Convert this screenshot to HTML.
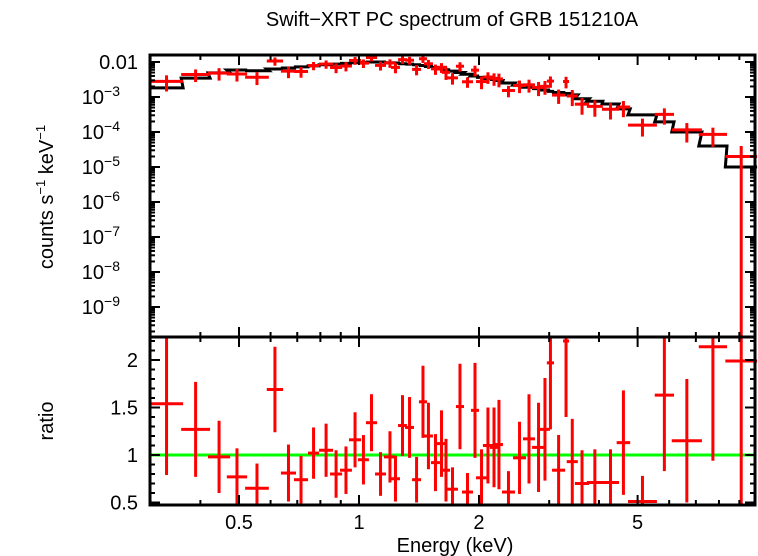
<!DOCTYPE html>
<html><head><meta charset="utf-8"><style>
body{margin:0;background:#fff}
svg{display:block;font-family:"Liberation Sans",sans-serif}
</style></head><body>
<svg id="chart" width="758" height="556" viewBox="0 0 758 556" xmlns="http://www.w3.org/2000/svg">
<rect x="0" y="0" width="758" height="556" fill="#fff"/>
<text x="452" y="26" font-size="20" text-anchor="middle">Swift−XRT PC spectrum of GRB 151210A</text>
<text x="455" y="552" font-size="20" text-anchor="middle">Energy (keV)</text>
<text transform="translate(53,197) rotate(-90)" font-size="20" text-anchor="middle">counts s<tspan font-size="13" dy="-8">−1</tspan><tspan dy="8"> keV</tspan><tspan font-size="13" dy="-8">−1</tspan></text>
<text transform="translate(53,421) rotate(-90)" font-size="20" text-anchor="middle">ratio</text>
<g id="g"></g>
</svg>
<script>
const eLo=[0.299,0.358,0.418,0.466,0.518,0.587,0.637,0.687,0.745,0.794,0.846,0.896,0.944,0.994,1.041,1.097,1.155,1.203,1.253,1.305,1.359,1.414,1.455,1.516,1.56,1.615,1.663,1.751,1.813,1.91,1.966,2.046,2.131,2.193,2.284,2.435,2.579,2.718,2.845,2.96,3.05,3.25,3.32,3.48,3.73,4.07,4.43,4.73,5.52,6.09,7.12,8.3];
const eHi=[0.362,0.423,0.475,0.524,0.594,0.645,0.695,0.745,0.794,0.861,0.907,0.960,1.012,1.059,1.11,1.169,1.238,1.267,1.319,1.374,1.431,1.481,1.533,1.596,1.663,1.692,1.771,1.834,1.932,2.0,2.095,2.168,2.233,2.297,2.462,2.624,2.764,2.928,3.013,3.085,3.29,3.365,3.54,3.78,4.09,4.49,4.79,5.59,6.17,7.25,8.38,9.97];
const ratio=[1.54,1.27,0.98,0.77,0.65,1.69,0.81,0.74,1.02,1.05,0.80,0.84,1.16,0.95,1.34,0.80,0.98,0.75,1.31,1.29,0.74,1.56,1.20,0.92,1.12,0.84,0.64,1.51,0.61,1.47,0.76,1.10,1.08,1.11,0.61,0.97,1.17,1.08,1.27,1.97,0.84,2.2,0.93,0.70,0.71,0.71,1.13,0.51,1.63,1.15,2.14,1.99];
const ratioErr=[0.75,0.5,0.38,0.3,0.26,0.45,0.3,0.25,0.27,0.28,0.25,0.25,0.29,0.26,0.30,0.23,0.27,0.24,0.32,0.32,0.24,0.38,0.35,0.30,0.35,0.33,0.23,0.45,0.2,0.5,0.3,0.4,0.42,0.47,0.22,0.38,0.47,0.47,0.54,0.7,0.37,0.8,0.45,0.35,0.35,0.35,0.55,0.27,0.8,0.65,1.2,2.0];
const modelLog=[-2.74,-2.46,-2.31,-2.23,-2.25,-2.2,-2.17,-2.14,-2.11,-2.08,-2.06,-2.04,-2.02,-2.01,-2.0,-2.0,-2.02,-2.03,-2.05,-2.06,-2.08,-2.1,-2.13,-2.16,-2.2,-2.22,-2.26,-2.3,-2.35,-2.4,-2.44,-2.47,-2.5,-2.53,-2.6,-2.66,-2.72,-2.76,-2.8,-2.84,-2.87,-2.9,-2.94,-3.05,-3.12,-3.2,-3.34,-3.51,-3.71,-4.0,-4.4,-5.0];
const xTicks=[0.5,1,2,5];
const xTickLabels=["0.5","1","2","5"];
const ratioTicks=[0.5,1,1.5,2];
const ratioTickLabels=["0.5","1","1.5","2"];
const logTicks=[-2,-3,-4,-5,-6,-7,-8,-9];

const L=150,R=755,T=55,M=337,B=505;
const X=e=>359+398.6*Math.log10(e);
const YT=v=>62-35*(Math.log10(v)+2);
const YB=r=>455-95*(r-1);
const NS="http://www.w3.org/2000/svg";
const g=document.getElementById('g');
function mk(tag,attrs,parent){const el=document.createElementNS(NS,tag);for(const k in attrs)el.setAttribute(k,attrs[k]);(parent||g).appendChild(el);return el;}
const clampT=y=>Math.max(T,Math.min(M,y));
const clampB=y=>Math.max(M,Math.min(B,y));

let d='';
for(let i=0;i<eLo.length;i++){const y=YT(Math.pow(10,modelLog[i]));d+=(i?'L':'M')+X(eLo[i])+' '+y+' L'+X(eHi[i])+' '+y+' ';}
const modelPath=mk('path',{d:d,fill:'none',stroke:'#000','stroke-width':3});



const unity=mk('line',{x1:L,x2:R,y1:YB(1),y2:YB(1),stroke:'#00ff00','stroke-width':3});



for(let i=0;i<eLo.length;i++){
  const m=Math.pow(10,modelLog[i]);
  const xc=(X(eLo[i])+X(eHi[i]))/2;
  const v=m*ratio[i],lo=m*(ratio[i]-ratioErr[i]),hi=m*(ratio[i]+ratioErr[i]);
  const gp=mk('g',{stroke:'#ff0000','stroke-width':3});
  
  
  const yv=YT(v);
  mk('line',{x1:X(eLo[i]),x2:X(eHi[i]),y1:yv,y2:yv},gp);
  mk('line',{x1:xc,x2:xc,y1:clampT(YT(hi)),y2:lo>0?clampT(YT(lo)):M},gp);
  const gr=mk('g',{stroke:'#ff0000','stroke-width':3});
  
  
  const yr=YB(ratio[i]);
  if(yr>=M&&yr<=B) mk('line',{x1:X(eLo[i]),x2:X(eHi[i]),y1:yr,y2:yr},gr);
  mk('line',{x1:xc,x2:xc,y1:clampB(YB(ratio[i]+ratioErr[i])),y2:clampB(YB(ratio[i]-ratioErr[i]))},gr);
}

const f1=mk('rect',{x:L,y:T,width:R-L,height:M-T,fill:'none',stroke:'#000','stroke-width':3});


const f2=mk('rect',{x:L,y:M,width:R-L,height:B-M,fill:'none',stroke:'#000','stroke-width':3});



const tg=mk('g',{stroke:'#000','stroke-width':2});


const minorE=[0.3,0.4,0.5,0.6,0.7,0.8,0.9,1,2,3,4,5,6,7,8,9];
minorE.forEach(e=>{const x=X(e);const len=xTicks.includes(e)?10:5;
  mk('line',{x1:x,x2:x,y1:T,y2:T+len},tg);mk('line',{x1:x,x2:x,y1:M,y2:M-len},tg);
  mk('line',{x1:x,x2:x,y1:M,y2:M+len},tg);mk('line',{x1:x,x2:x,y1:B,y2:B-len},tg);});
xTicks.forEach((e,i)=>{const t=mk('text',{x:X(e),y:529,'font-size':20,'text-anchor':'middle'});t.textContent=xTickLabels[i];
  
  });

const yg=mk('g',{stroke:'#000','stroke-width':2});


for(let p=-10;p<=-2;p++){for(let k=1;k<10;k++){const v=k*Math.pow(10,p);const y=YT(v);if(y<T||y>M)continue;const len=k==1?10:5;
  mk('line',{x1:L,x2:L+len,y1:y,y2:y},yg);mk('line',{x1:R,x2:R-len,y1:y,y2:y},yg);}}
logTicks.forEach(p=>{const y=YT(Math.pow(10,p))+7;
  const t=mk('text',{x:138,y:y,'font-size':20,'text-anchor':'end'});
  
  
  if(p==-2){t.textContent='0.01';}
  else{t.setAttribute('x',120);t.textContent='10';const s=mk('tspan',{'font-size':14,dy:-8},t);s.textContent='−'+(-p);}
});

const rg=mk('g',{stroke:'#000','stroke-width':2});


for(let r=0.5;r<=2.21;r+=0.1){const y=YB(r);const maj=Math.abs(r*2-Math.round(r*2))<0.01;const len=maj?10:5;
  mk('line',{x1:L,x2:L+len,y1:y,y2:y},rg);mk('line',{x1:R,x2:R-len,y1:y,y2:y},rg);}
ratioTicks.forEach((r,i)=>{const t=mk('text',{x:138,y:YB(r)+7,'font-size':20,'text-anchor':'end'});t.textContent=ratioTickLabels[i];
  
  });
</script>
</body></html>
